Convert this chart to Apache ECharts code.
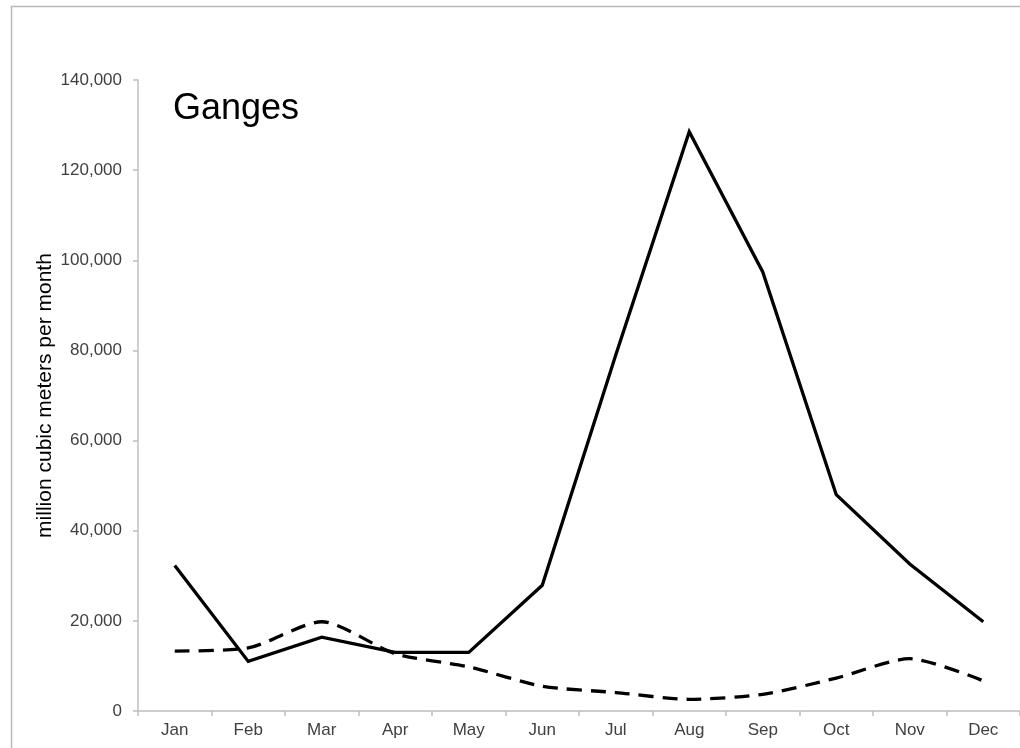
<!DOCTYPE html>
<html>
<head>
<meta charset="utf-8">
<script src="https://cdn.jsdelivr.net/npm/echarts@6/dist/echarts.min.js"></script>
<style>
html,body{margin:0;padding:0;background:#fff;}
#chart{width:1020px;height:748px;}
</style>
</head>
<body>
<div id="chart"></div>
<script>
var months = ['Jan','Feb','Mar','Apr','May','Jun','Jul','Aug','Sep','Oct','Nov','Dec'];
var solidSeries = [32300, 11000, 16400, 13000, 13000, 27900, 79000, 128500, 97400, 48000, 32600, 19800];
var dashedSeries = [13300, 14000, 19800, 12700, 9800, 5500, 4100, 2600, 3700, 7300, 11600, 6700];
var yTicks = [0, 20000, 40000, 60000, 80000, 100000, 120000, 140000];
var titleText = 'Ganges';
var yAxisTitle = 'million cubic meters per month';

var chart = echarts.init(document.getElementById('chart'), null, {renderer: 'canvas'});
var font = '"Liberation Sans", Arial, sans-serif';
chart.setOption({
  animation: false,
  backgroundColor: '#ffffff',
  grid: {left: 138, top: 80, width: 886, height: 631, containLabel: false},
  graphic: [
    {type: 'rect', shape: {x: 11.5, y: 6.5, width: 1100, height: 1000},
     style: {fill: 'none', stroke: '#b8b8b8', lineWidth: 1.5}, z: -10},
    {type: 'text', x: 173, y: 109,
     style: {text: titleText, font: '36px ' + font, fill: '#000', verticalAlign: 'middle', align: 'left'}}
  ],
  xAxis: {
    type: 'category',
    data: months,
    boundaryGap: true,
    axisLine: {lineStyle: {color: '#bfbfbf', width: 1.5}},
    axisTick: {show: true, alignWithLabel: false, length: 5, lineStyle: {color: '#bfbfbf', width: 1.5}},
    axisLabel: {color: '#404040', fontSize: 17, fontFamily: font, margin: 11, interval: 0},
    splitLine: {show: false}
  },
  yAxis: {
    type: 'value',
    min: yTicks[0],
    max: yTicks[yTicks.length - 1],
    interval: yTicks[1] - yTicks[0],
    name: yAxisTitle,
    nameLocation: 'middle',
    nameGap: 93,
    nameMoveOverlap: false,
    nameRotate: 90,
    nameTextStyle: {color: '#000', fontSize: 21, fontFamily: font, verticalAlign: 'middle'},
    axisLine: {show: true, lineStyle: {color: '#bfbfbf', width: 1.5}},
    axisTick: {show: true, length: 5, lineStyle: {color: '#bfbfbf', width: 1.5}},
    axisLabel: {
      color: '#404040', fontSize: 17, fontFamily: font, margin: 16,
      formatter: function (v) { return v.toLocaleString('en-US'); }
    },
    splitLine: {show: false}
  },
  series: [
    {
      type: 'line', data: solidSeries, symbol: 'none',
      lineStyle: {color: '#000', width: 3.3, join: 'miter'}
    },
    {
      type: 'line', data: dashedSeries, symbol: 'none', smooth: 0.25,
      lineStyle: {color: '#000', width: 3.3, type: [15, 9]}
    }
  ]
});
</script>
</body>
</html>
